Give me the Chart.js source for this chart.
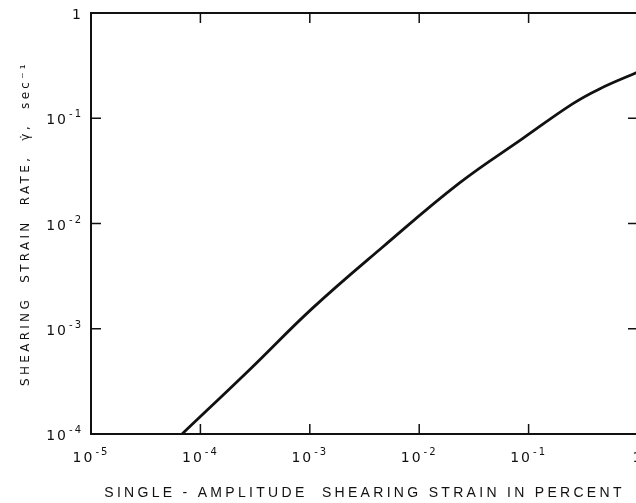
<!DOCTYPE html>
<html>
<head>
<meta charset="utf-8">
<script src="https://cdn.jsdelivr.net/npm/chart.js@4/dist/chart.umd.min.js"></script>
<style>
  html, body { margin: 0; padding: 0; background: #fff; overflow: hidden; }
  #wrap { position: relative; width: 642px; height: 503px; }
</style>
</head>
<body>
<div id="wrap"><canvas id="strainChart"></canvas></div>
<script>
// single-amplitude shearing strain (percent)
const strain = [6.8e-5, 2.83e-4, 1.06e-3, 4.64e-3, 2.34e-2, 8.8e-2, 0.252, 0.445, 1.0];
// shearing strain rate (1/sec)
const strainRate = [1.0e-4, 4.1e-4, 1.57e-3, 5.98e-3, 2.43e-2, 6.4e-2, 0.137, 0.19, 0.275];

const xTicks = [1e-5, 1e-4, 1e-3, 1e-2, 1e-1, 1];
const xTickLabels = [['10', '-5'], ['10', '-4'], ['10', '-3'], ['10', '-2'], ['10', '-1'], ['1', '']];
const yTicks = [1e-4, 1e-3, 1e-2, 1e-1, 1];
const yTickLabels = [['10', '-4'], ['10', '-3'], ['10', '-2'], ['10', '-1'], ['1', '']];

const ink = '#111';
const baseFont = '14px "DejaVu Sans"';
const expFont = '10px "DejaVu Sans"';

// "10" with a raised exponent, aligned 'center' or 'right' on x
function drawPower(ctx, label, x, y, align) {
    ctx.font = baseFont;
    const wb = ctx.measureText(label[0]).width;
    ctx.font = expFont;
    const we = label[1] ? ctx.measureText(label[1]).width + 1 : 0;
    const w = wb + we;
    const x0 = align === 'right' ? x - w : x - w / 2;
    ctx.font = baseFont;
    ctx.fillText(label[0], x0, y);
    if (label[1]) {
        ctx.font = expFont;
        ctx.fillText(label[1], x0 + wb + 1, y - 7);
    }
}

// frame, inward decade ticks on all four sides, and the power-of-ten labels
const frameTicks = {
    id: 'frameTicks',
    beforeDraw(chart) {
        chart.ctx.letterSpacing = '3.3px';
    },
    afterDraw(chart) {
        const ctx = chart.ctx;
        const a = chart.chartArea;
        const xs = chart.scales.x, ys = chart.scales.y;
        const len = 10;
        ctx.save();
        ctx.strokeStyle = ink;
        ctx.lineWidth = 2;
        ctx.strokeRect(a.left, a.top, a.right - a.left, a.bottom - a.top);
        ctx.lineWidth = 1.5;
        ctx.beginPath();
        xTicks.forEach(v => {
            const px = xs.getPixelForValue(v);
            ctx.moveTo(px, a.bottom); ctx.lineTo(px, a.bottom - len);
            ctx.moveTo(px, a.top); ctx.lineTo(px, a.top + len);
        });
        yTicks.forEach(v => {
            const py = ys.getPixelForValue(v);
            ctx.moveTo(a.left, py); ctx.lineTo(a.left + len, py);
            ctx.moveTo(a.right, py); ctx.lineTo(a.right - len, py);
        });
        ctx.stroke();

        ctx.fillStyle = ink;
        ctx.letterSpacing = '2px';
        ctx.textAlign = 'left';
        ctx.textBaseline = 'alphabetic';
        xTicks.forEach((v, i) => {
            drawPower(ctx, xTickLabels[i], xs.getPixelForValue(v), a.bottom + 28, 'center');
        });
        yTicks.forEach((v, i) => {
            drawPower(ctx, yTickLabels[i], a.left - 8, ys.getPixelForValue(v) + 6, 'right');
        });
        ctx.restore();
    }
};

const ctx = document.getElementById('strainChart').getContext('2d');
new Chart(ctx, {
    type: 'line',
    data: {
        datasets: [{
            data: strain.map((s, i) => ({ x: s, y: strainRate[i] })),
            borderColor: ink,
            borderWidth: 2.8,
            pointRadius: 0,
            fill: false,
            tension: 0.4
        }]
    },
    options: {
        responsive: true,
        maintainAspectRatio: false,
        animation: false,
        layout: { padding: { top: 13, right: 4, left: 0, bottom: 0 } },
        plugins: {
            legend: { display: false },
            tooltip: { enabled: false }
        },
        scales: {
            x: {
                type: 'logarithmic',
                min: 1e-5,
                max: 1,
                afterBuildTicks: scale => { scale.ticks = xTicks.map(v => ({ value: v })); },
                afterFit: scale => {
                    scale.height = 69;
                    scale.paddingLeft = 0;
                    scale.paddingRight = 0;
                },
                grid: { display: false, drawTicks: false },
                border: { display: false },
                ticks: { display: false },
                title: {
                    display: true,
                    text: 'SINGLE - AMPLITUDE  SHEARING STRAIN IN PERCENT',
                    color: ink,
                    font: { family: 'Liberation Sans', size: 14 },
                    padding: { top: 0, bottom: 1 }
                }
            },
            y: {
                type: 'logarithmic',
                min: 1e-4,
                max: 1,
                afterBuildTicks: scale => { scale.ticks = yTicks.map(v => ({ value: v })); },
                afterFit: scale => { scale.width = 91; },
                grid: { display: false, drawTicks: false },
                border: { display: false },
                ticks: { display: false },
                title: {
                    display: true,
                    text: 'SHEARING  STRAIN  RATE,  γ̇,  sec⁻¹',
                    color: ink,
                    font: { family: 'DejaVu Sans', size: 12 },
                    padding: { top: 19, bottom: 0 }
                }
            }
        }
    },
    plugins: [frameTicks]
});
</script>
</body>
</html>
